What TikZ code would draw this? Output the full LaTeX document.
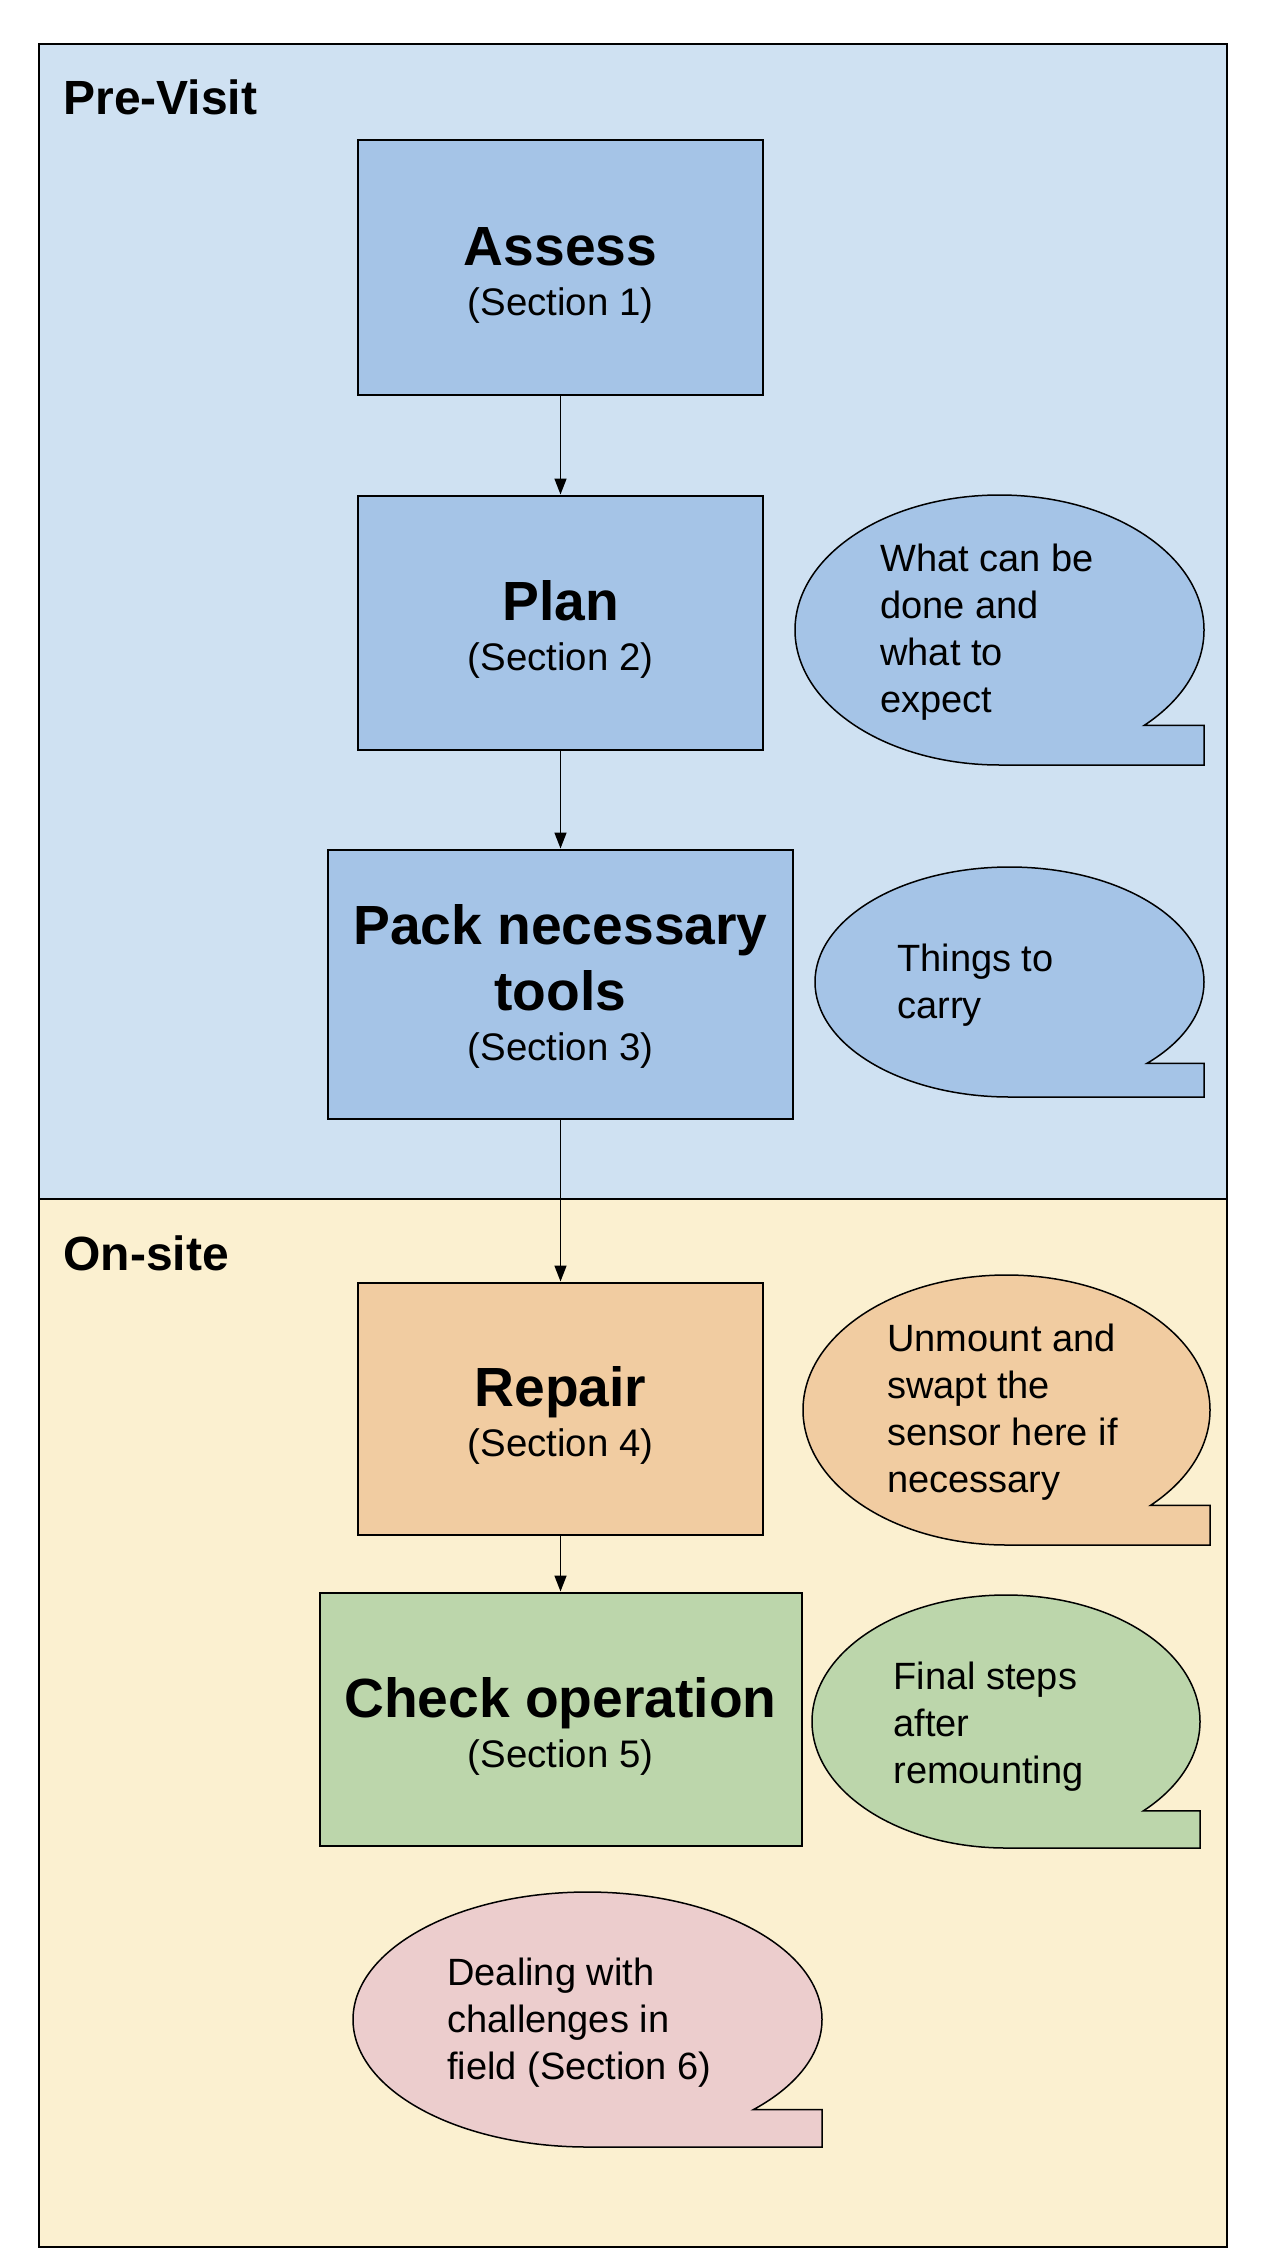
\documentclass[tikz,border=0pt]{standalone}
\usepackage{fontspec}
\setmainfont{Liberation Sans}
\usetikzlibrary{arrows.meta, positioning}
\definecolor{previsitbg}{RGB}{207,225,242}
\definecolor{onsitebg}{RGB}{251,240,208}
\definecolor{stepblue}{RGB}{165,196,231}
\definecolor{steporange}{RGB}{241,204,161}
\definecolor{stepgreen}{RGB}{188,214,171}
\definecolor{notepink}{RGB}{236,205,205}

\tikzset{
  stepbox/.style={draw=black, line width=1pt, align=center, inner sep=0pt,
    font=\fontsize{27.6}{33}\selectfont\bfseries},
  notetext/.style={anchor=north west, align=left, inner sep=0pt,
    font=\fontsize{19}{23.5}\selectfont},
  lanelabel/.style={anchor=base west, inner sep=0pt,
    font=\fontsize{24}{28}\selectfont\bfseries},
  flowarrow/.style={line width=0.8pt, -{Triangle[length=8pt, width=6pt]}},
  bubbleline/.style={draw=black, line width=0.75pt}
}
% speech bubble: centre, x radius, y radius, fill colour
\newcommand{\speechbubble}[4]{%
  \draw[bubbleline, fill=#4] (#1) ++({0.7071*#2},{-0.7071*#3})
    arc[start angle=-45, end angle=270, x radius=#2, y radius=#3]
    -- ++(#2,0) -- ++(0,{0.2929*#3}) -- cycle;}
\newcommand{\secline}[1]{{\fontsize{19.2}{22}\selectfont\mdseries #1}}
\newcommand{\topstrut}[1]{\rule{0pt}{#1}}

\begin{document}
\begin{tikzpicture}[x=0.5pt, y=0.5pt]
  \fill[white] (0,0) rectangle (1262,-2268);
  \useasboundingbox (0,0) rectangle (1262,-2268);

  % lanes
  \draw[line width=1pt, fill=previsitbg] (39,-44) rectangle (1227,-1199);
  \draw[line width=1pt, fill=onsitebg] (39,-1199) rectangle (1227,-2247);
  \node[lanelabel] (previsit) at (63,-115) {Pre-Visit};
  \node[lanelabel] (onsite) at (63,-1270) {On-site};

  % steps
  \node[stepbox, fill=stepblue, minimum width=202.5pt, minimum height=127pt]
    (assess) at (560.5,-267.5) {\topstrut{27pt}Assess\\[-8pt]\secline{(Section 1)}};
  \node[stepbox, fill=stepblue, minimum width=202.5pt, minimum height=127pt,
    below=49.5pt of assess] (plan) {\topstrut{27pt}Plan\\[-8pt]\secline{(Section 2)}};
  \node[stepbox, fill=stepblue, minimum width=232.5pt, minimum height=134.5pt,
    below=49pt of plan] (pack) {\topstrut{22pt}Pack necessary\\tools\\[-8pt]\secline{(Section 3)}};
  \node[stepbox, fill=steporange, minimum width=202.5pt, minimum height=126pt,
    below=81pt of pack] (repair) {\topstrut{27pt}Repair\\[-8pt]\secline{(Section 4)}};
  \node[stepbox, fill=stepgreen, minimum width=241pt, minimum height=126.5pt,
    below=28pt of repair] (check) {\topstrut{27pt}Check operation\\[-8pt]\secline{(Section 5)}};

  \draw[flowarrow] (assess) -- (plan);
  \draw[flowarrow] (plan) -- (pack);
  \draw[flowarrow] (pack) -- (repair);
  \draw[flowarrow] (repair) -- (check);

  % notes
  \speechbubble{999.5,-630}{204.5}{135}{stepblue}
  \node[notetext] (noteplan) at (880,-544) {What can be\\done and\\what to\\expect};
  \speechbubble{1009.5,-982}{194.5}{115}{stepblue}
  \node[notetext] (notepack) at (897,-944) {Things to\\carry};
  \speechbubble{1006.5,-1410}{203.5}{135}{steporange}
  \node[notetext] (noterepair) at (887,-1324) {Unmount and\\swapt the\\sensor here if\\necessary};
  \speechbubble{1006,-1721.5}{194}{126.5}{stepgreen}
  \node[notetext] (notecheck) at (893,-1662) {Final steps\\after\\remounting};
  \speechbubble{587.5,-2019.5}{234.5}{127.5}{notepink}
  \node[notetext] (notefield) at (447,-1958) {Dealing with\\challenges in\\field (Section 6)};
\end{tikzpicture}
\end{document}
